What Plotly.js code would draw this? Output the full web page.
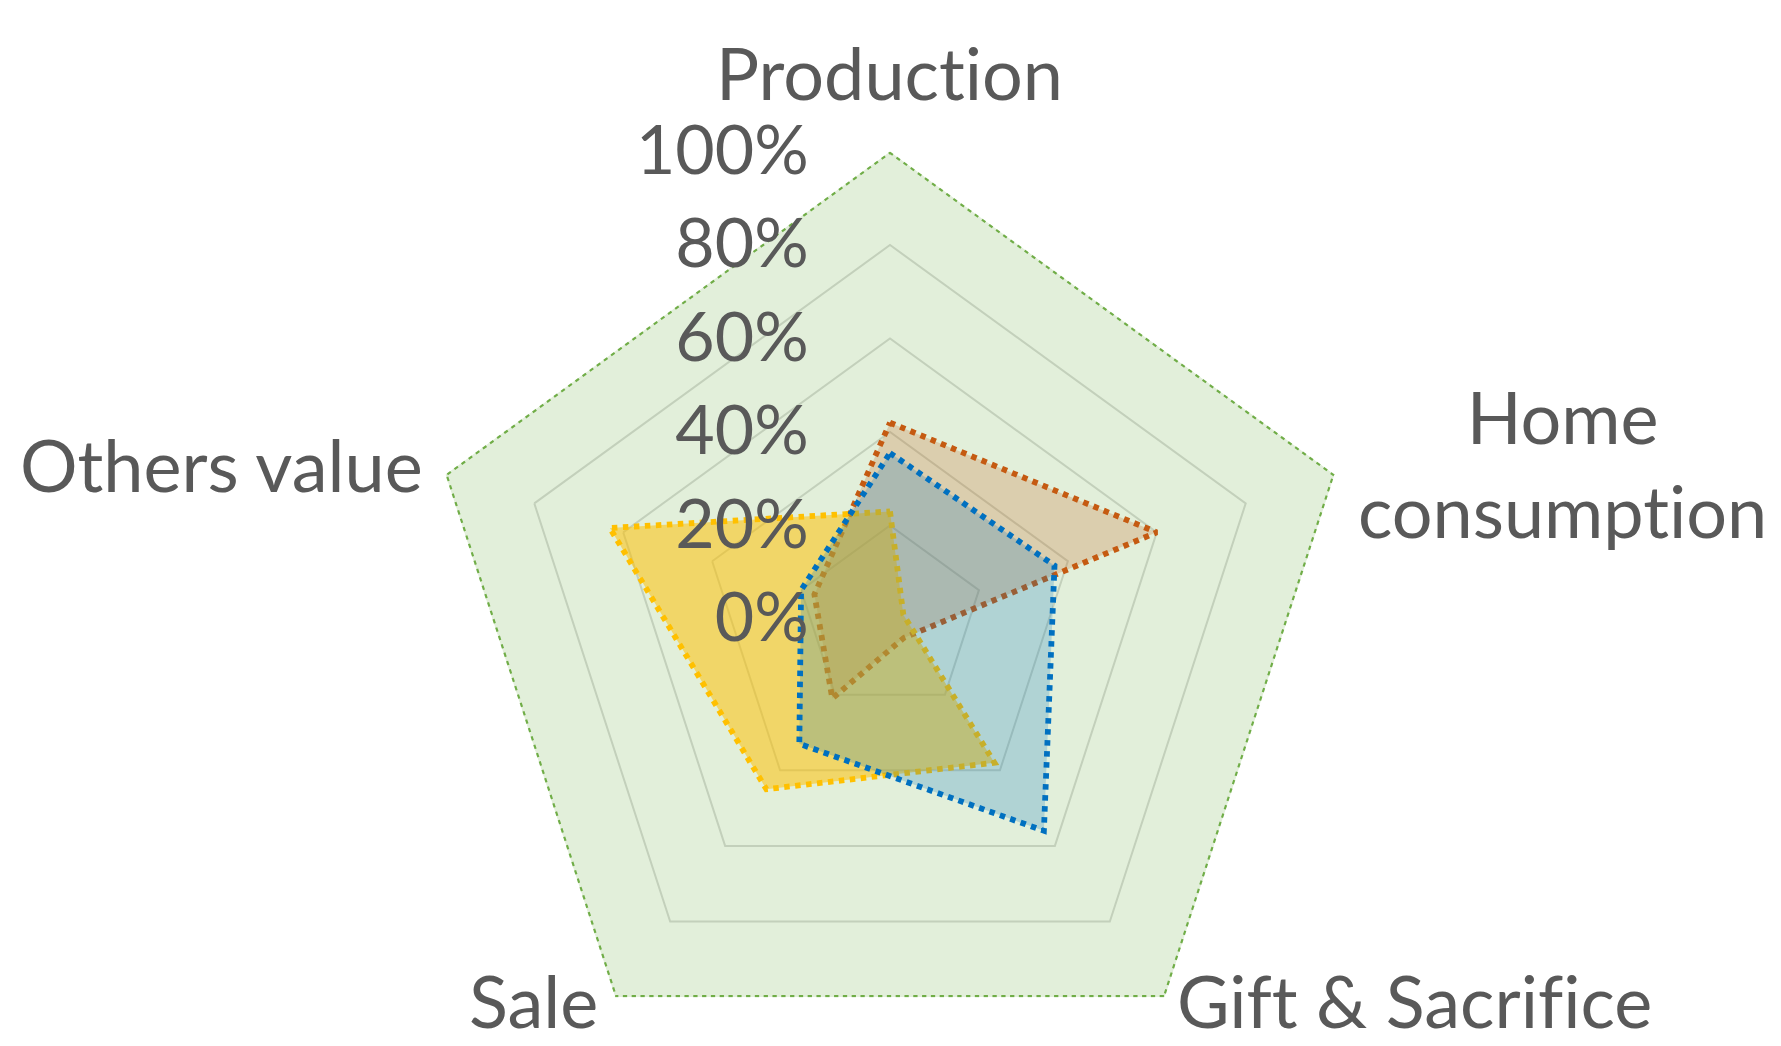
<!DOCTYPE html>
<html><head><meta charset="utf-8">
<script src="https://cdn.plot.ly/plotly-3.0.1.min.js"></script>
<style>
html,body{margin:0;padding:0;overflow:hidden;background:#fff}
#chart{width:1781px;height:1240px}
svg text{font-variant-ligatures:none;font-feature-settings:"liga" 0,"clig" 0;}
</style>
</head><body><div id="chart"></div>
<script>
// ---- data ----
const categories = ['Production', 'Home<br>consumption', 'Gift & Sacrifice', 'Sale', 'Others value'];
const seriesNames = ['Reference (100%)', 'Series 1', 'Series 2', 'Series 3'];
const totalVals  = [1.00, 1.00, 1.00, 1.00, 1.00];
const orangeVals = [0.42, 0.60, 0.05, 0.21, 0.17];
const yellowVals = [0.23, 0.03, 0.38, 0.45, 0.63];
const blueVals   = [0.355, 0.37, 0.56, 0.33, 0.20];
const radialTickVals = [0, 0.2, 0.4, 0.6, 0.8, 1.0];
const radialTickText = ['0%', '20%', '40%', '60%', '80%', '100%'];

// ---- styles ----
const styles = [
  {line: '#70AD47', fill: 'rgba(112,173,71,0.20)', width: 4.3, dash: '4.3px,4.5px'},
  {line: '#C55A11', fill: 'rgba(197,90,17,0.22)', width: 5.8, dash: '5.5px,5.5px'},
  {line: '#FFC000', fill: 'rgba(255,192,0,0.52)', width: 5.8, dash: '5.5px,5.5px'},
  {line: '#0070C0', fill: 'rgba(0,112,192,0.22)', width: 5.8, dash: '5.5px,5.5px'}
];
const allVals = [totalVals, orangeVals, yellowVals, blueVals];

function closeLoop(a) { return a.concat([a[0]]); }

const traces = allVals.map((vals, i) => ({
  type: 'scatterpolar',
  name: seriesNames[i],
  r: closeLoop(vals),
  theta: closeLoop(categories),
  mode: 'lines',
  fill: 'toself',
  fillcolor: styles[i].fill,
  line: {color: styles[i].line, width: styles[i].width, dash: styles[i].dash},
  hoverinfo: 'skip'
}));

const W = 1781, H = 1240;
const cx = 890, cy = 619, R = 467.5;
const FONT = 'Lato, "Open Sans", sans-serif';
const TXT = '#595959';

// category label placement (page pixels): [x, y, xanchor]
const labelPlace = [
  [889, 72, 'center'],
  [1562, 463, 'center'],
  [1175, 1000, 'left'],
  [600, 1000, 'right'],
  [425, 464, 'right']
];
const annotations = categories.map((c, i) => ({
  text: c,
  xref: 'paper', yref: 'paper',
  x: labelPlace[i][0] / W,
  y: 1 - labelPlace[i][1] / H,
  xanchor: labelPlace[i][2],
  yanchor: 'middle',
  align: 'center',
  showarrow: false,
  font: {size: 72, color: TXT, family: FONT}
}));

const layout = {
  width: W, height: H,
  margin: {l: 0, r: 0, t: 0, b: 0},
  paper_bgcolor: '#ffffff',
  showlegend: false,
  font: {family: FONT, color: TXT},
  annotations: annotations,
  polar: {
    domain: {x: [(cx - R) / W, (cx + R) / W], y: [1 - (cy + R) / H, 1 - (cy - R) / H]},
    gridshape: 'linear',
    bgcolor: 'rgba(0,0,0,0)',
    angularaxis: {
      type: 'category',
      categoryarray: categories,
      direction: 'clockwise',
      rotation: 90,
      showline: false,
      showgrid: false,
      showticklabels: false,
      ticks: ''
    },
    radialaxis: {
      range: [0, 1],
      angle: 90,
      side: 'counterclockwise',
      tickangle: 90,
      tickvals: radialTickVals,
      ticktext: radialTickText,
      showline: false,
      showgrid: true,
      gridcolor: '#D9D9D9',
      gridwidth: 2,
      ticks: 'outside',
      ticklen: 57,
      tickcolor: 'rgba(0,0,0,0)',
      tickfont: {size: 68, color: TXT, family: FONT}
    }
  }
};

Plotly.newPlot('chart', traces, layout, {displayModeBar: false, staticPlot: true});
</script>
</body></html>
